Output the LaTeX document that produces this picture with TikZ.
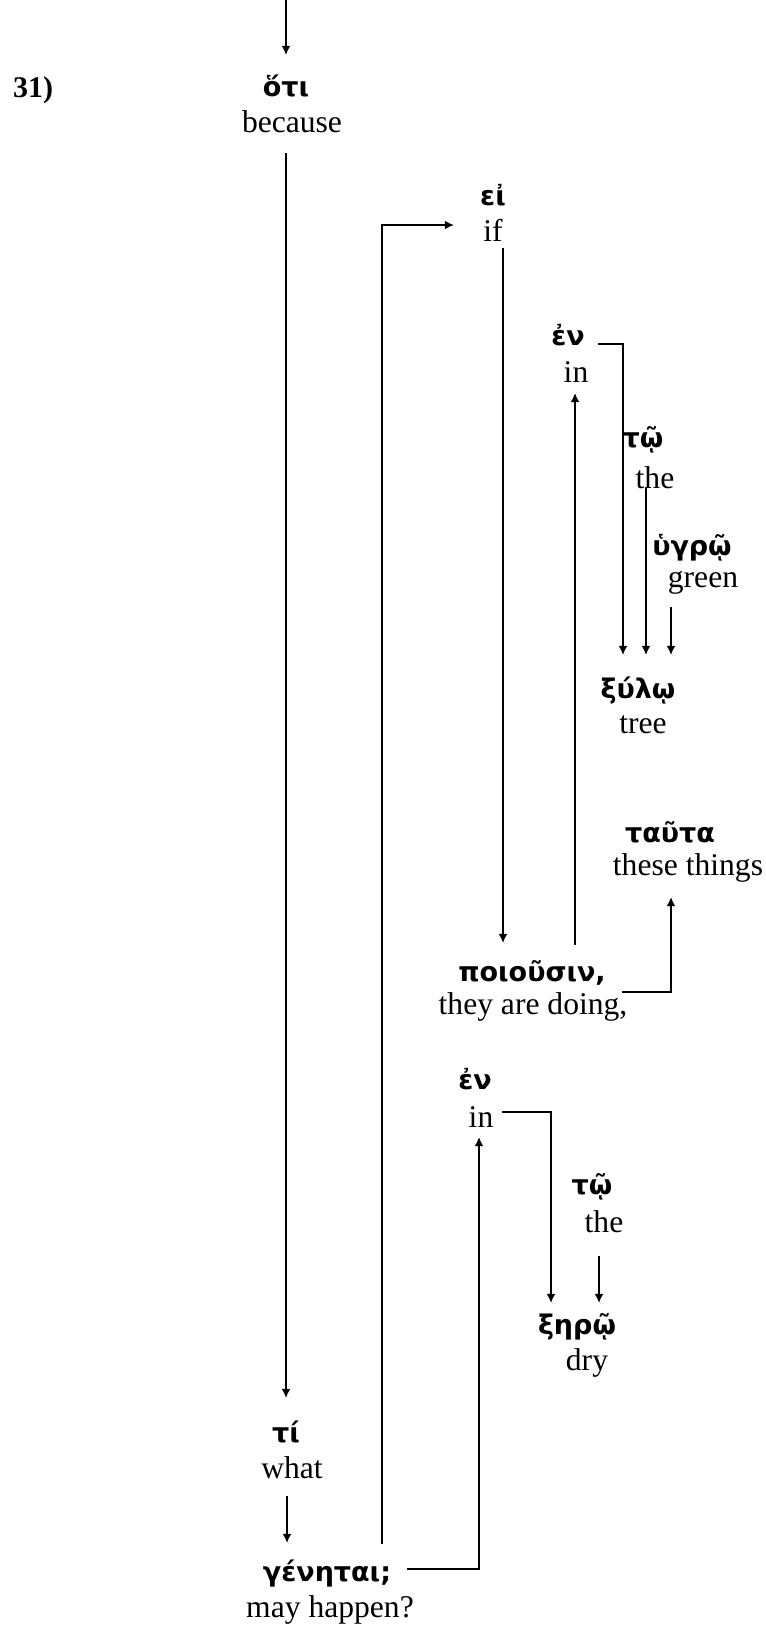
\documentclass[tikz,border=0pt]{standalone}
\usepackage{fontspec}
\setmainfont{Liberation Serif}
\newfontfamily\grk{DejaVu Sans}
\usetikzlibrary{calc,arrows.meta}
\begin{document}
\begin{tikzpicture}[x=0.5pt,y=-0.5pt,
  en/.style={inner sep=0pt,font=\fontsize{15.8}{18}\selectfont},
  gr/.style={inner sep=0pt,font=\grk\bfseries\fontsize{13.5}{16}\selectfont},
  num/.style={inner sep=0pt,font=\bfseries\fontsize{15}{18}\selectfont},
  arr/.style={line width=0.8pt,-{Latex[length=4.6pt,width=4.4pt]}},
  ln/.style={line width=0.8pt}]
\useasboundingbox (0,0) rectangle (766,1629);
% labels
\node[num] (n31) at (33,90) {31)};
\node[gr] (g1) at (286,86) {ὅτι};
\node[en] (e1) at (292,122) {because};
\node[gr] (g2) at (493,195) {εἰ};
\node[en] (e2) at (493,230) {if};
\node[gr] (g3) at (568,335) {ἐν};
\node[en] (e3) at (576,372) {in};
\node[gr] (g4) at (643,440) {τῷ};
\node[en] (e4) at (655,478) {the};
\node[gr] (g5) at (692,548) {ὑγρῷ};
\node[en] (e5) at (703,583) {green};
\node[gr] (g6) at (638,690) {ξύλῳ};
\node[en] (e6) at (643,725) {tree};
\node[gr] (g7) at (670,832) {ταῦτα};
\node[en] (e7) at (688,868) {these things};
\node[gr] (g8) at (532,973) {ποιοῦσιν,};
\node[en] (e8) at (533,1007) {they are doing,};
\node[gr] (g9) at (475,1079) {ἐν};
\node[en] (e9) at (481,1117) {in};
\node[gr] (g10) at (592,1187) {τῷ};
\node[en] (e10) at (604,1222) {the};
\node[gr] (g11) at (577,1327) {ξηρῷ};
\node[en] (e11) at (587,1363) {dry};
\node[gr] (g12) at (286,1432) {τί};
\node[en] (e12) at (292,1468) {what};
\node[gr] (g13) at (327,1573) {γένηται;};
\node[en] (e13) at (330,1610) {may happen?};
% connectors
\coordinate (top) at (286,0);
\draw[arr] (top) -- ($(g1)+(0,-31)$);
\draw[arr] ($(e1)+(-6,31)$) -- ($(g12)+(0,-34)$);
\draw[arr] ($(e12)+(-5,28)$) -- ($(g13)+(-40,-30)$);
\draw[arr] ($(g13)+(55,-29)$) |- ($(e2)+(-39,-5)$);
\draw[arr] ($(e2)+(10,18)$) -- ($(g8)+(-29,-30)$);
\draw[arr] ($(g8)+(43,-28)$) -- ($(e3)+(-1,21)$);
\draw[arr] ($(g3)+(30,9)$) -| ($(g6)+(-15,-35)$);
\draw[arr] ($(e4)+(-9,10)$) -- ($(g6)+(8,-35)$);
\draw[arr] ($(e5)+(-32,24)$) -- ($(g6)+(33,-35)$);
\draw[arr] ($(e8)+(89,-15)$) -| ($(e7)+(-17,29)$);
\draw[arr] ($(g13)+(80,-4)$) -| ($(e9)+(-2,20)$);
\draw[arr] ($(e9)+(21,-5)$) -| ($(g11)+(-26,-24)$);
\draw[arr] ($(e10)+(-5,34)$) -- ($(g11)+(22,-24)$);
\end{tikzpicture}
\end{document}
